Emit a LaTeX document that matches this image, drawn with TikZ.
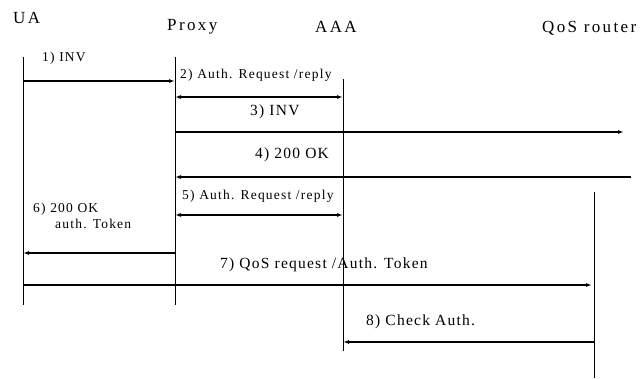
\documentclass[tikz,border=0pt]{standalone}
\usepackage{fontspec}
\setmainfont{Liberation Serif}
\usetikzlibrary{arrows.meta}

\tikzset{
		seq/.style={x=1pt,y=-1pt},
		actor/.style={anchor=base west,inner sep=0pt,font=\fontsize{17}{20}\selectfont\addfontfeature{LetterSpace=14}},
		lbl/.style={anchor=base west,inner sep=0pt,font=\fontsize{13.5}{16}\selectfont\addfontfeature{LetterSpace=9}},
		biglbl/.style={anchor=base west,inner sep=0pt,font=\fontsize{15.5}{18}\selectfont\addfontfeature{LetterSpace=8}},
		life/.style={line width=0.9pt},
		msg/.style={line width=1.2pt,-{Latex[length=6pt,width=4pt]}},
		dmsg/.style={line width=1.2pt,{Latex[length=6pt,width=4pt]}-{Latex[length=6pt,width=4pt]}}
	}

\begin{document}
\begin{tikzpicture}[seq]
				\useasboundingbox (0,0) rectangle (642,378);
				\node[actor] (ua) at (13,23) {UA};
				\node[actor] (proxy) at (167,30) {Proxy};
				\node[actor] (aaa) at (315,32) {AAA};
				\node[actor] (qos) at (542,32) {QoS router};
				\coordinate (uaT) at (23,57);
				\coordinate (uaB) at (23,305);
				\coordinate (pxT) at (175,57);
				\coordinate (pxB) at (175,305);
				\coordinate (aaT) at (343,79);
				\coordinate (aaB) at (343,351);
				\coordinate (qrT) at (594,192);
				\coordinate (qrB) at (594,378);
				\draw[life] (uaT) -- (uaB);
				\draw[life] (pxT) -- (pxB);
				\draw[life] (aaT) -- (aaB);
				\draw[life] (qrT) -- (qrB);
				\coordinate (m1) at (0,81);
				\coordinate (m2) at (0,97);
				\coordinate (m3) at (0,132);
				\coordinate (m4) at (0,177);
				\coordinate (m5) at (0,215);
				\coordinate (m6) at (0,253);
				\coordinate (m7) at (0,285);
				\coordinate (m8) at (0,342);
				\coordinate (e3) at (624,132);
				\coordinate (s4) at (631,177);
				\node[lbl] (l1) at (42,61) {1) INV};
				\node[lbl] (l2) at (180,78) {2) Auth. Request /reply};
				\node[biglbl] (l3) at (250,115) {3) INV};
				\node[biglbl] (l4) at (255,158) {4) 200 OK};
				\node[lbl] (l5) at (182,199) {5) Auth. Request /reply};
				\node[lbl] (l6a) at (33,212) {6) 200 OK};
				\node[lbl] (l6b) at (55,228) {auth. Token};
				\node[biglbl] (l7) at (220,268) {7) QoS request /Auth. Token};
				\node[biglbl] (l8) at (366,325) {8) Check Auth.};
				\draw[msg] (uaT |- m1) -- (pxT |- m1);
				\draw[dmsg] (pxT |- m2) -- (aaT |- m2);
				\draw[msg] (pxT |- m3) -- (e3);
				\draw[msg] (s4) -- (pxT |- m4);
				\draw[dmsg] (pxT |- m5) -- (aaT |- m5);
				\draw[msg] (pxT |- m6) -- (uaT |- m6);
				\draw[msg,shorten >=2pt] (uaT |- m7) -- (qrT |- m7);
				\draw[msg] (qrT |- m8) -- (aaT |- m8);
			\end{tikzpicture}
\end{document}
